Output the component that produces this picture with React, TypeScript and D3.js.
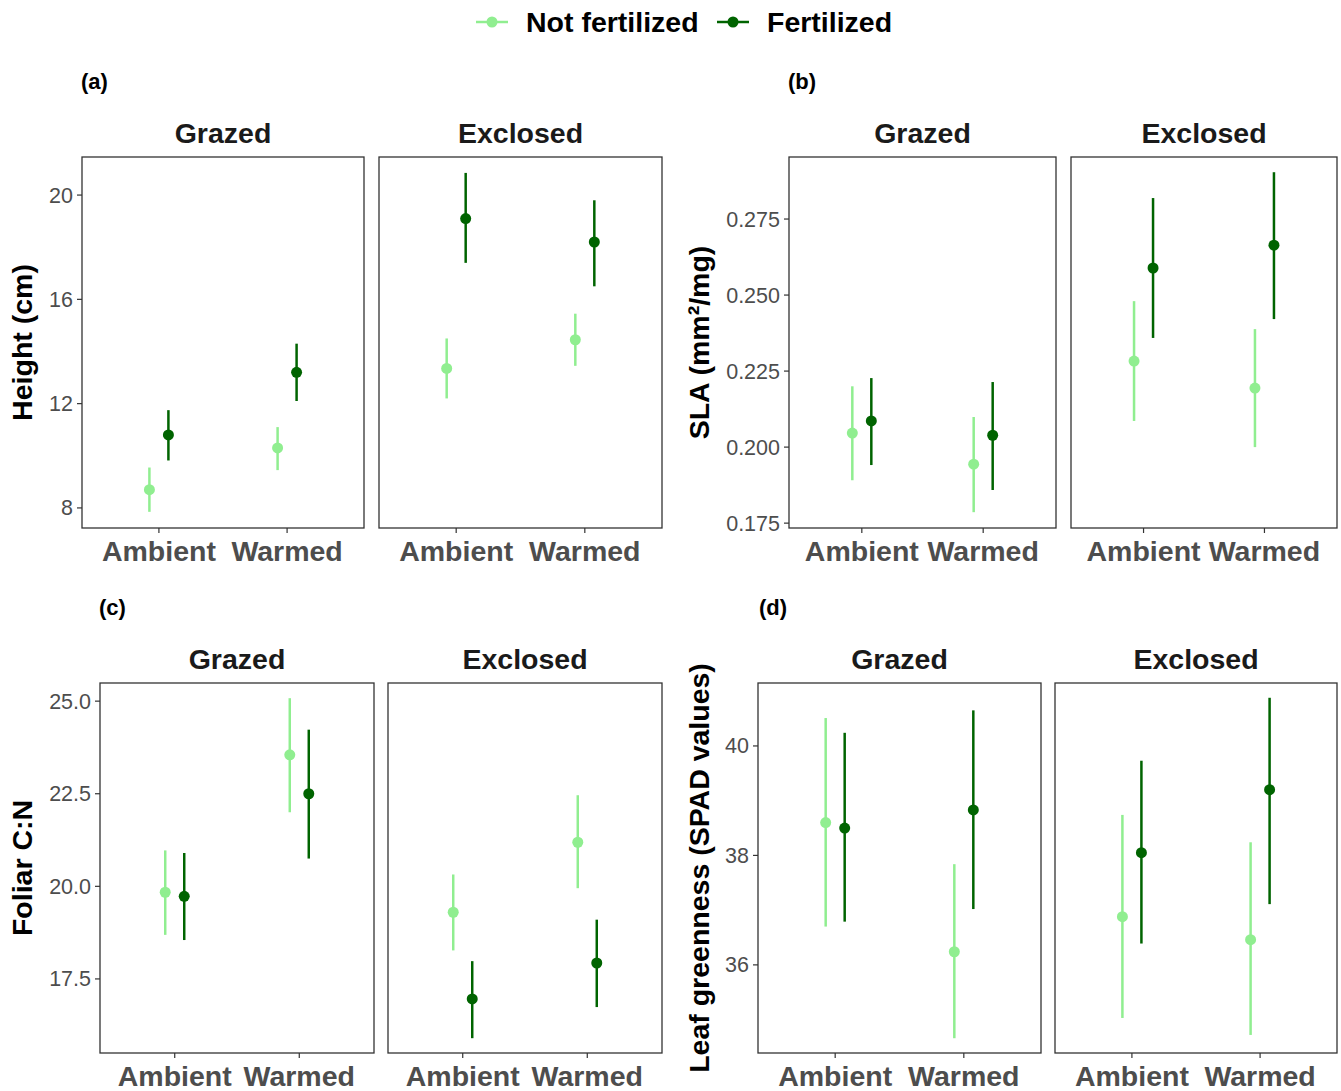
import React from 'react';
import * as d3 from 'd3';

const treatments = ['Ambient', 'Warmed'];
const facets = ['Grazed', 'Exclosed'];
const groups = ['Not fertilized', 'Fertilized'];
const colors = ['#90EE90', '#006400'];

// [facet][treatment][group] = [mean, lo, hi]
const heightVals = [
  [[[8.7, 7.85, 9.55], [10.8, 9.82, 11.75]], [[10.3, 9.45, 11.1], [13.2, 12.1, 14.3]]],
  [[[13.35, 12.2, 14.5], [19.1, 17.4, 20.85]], [[14.45, 13.45, 15.45], [18.2, 16.5, 19.8]]],
];
const slaVals = [
  [[[0.2046, 0.1891, 0.22], [0.2086, 0.1941, 0.2227]], [[0.1944, 0.1786, 0.2099], [0.2039, 0.1859, 0.2214]]],
  [[[0.2283, 0.2086, 0.248], [0.2589, 0.2359, 0.2819]], [[0.2194, 0.2, 0.2388], [0.2664, 0.2421, 0.2904]]],
];
const cnVals = [
  [[[19.84, 18.69, 20.97], [19.73, 18.55, 20.9]], [[23.55, 22.0, 25.08], [22.5, 20.75, 24.23]]],
  [[[19.3, 18.27, 20.32], [16.96, 15.9, 17.98]], [[21.19, 19.95, 22.46], [17.93, 16.74, 19.1]]],
];
const spadVals = [
  [[[38.6, 36.7, 40.51], [38.5, 36.79, 40.24]], [[36.24, 34.66, 37.84], [38.83, 37.02, 40.65]]],
  [[[36.88, 35.03, 38.74], [38.05, 36.39, 39.73]], [[36.46, 34.72, 38.24], [39.2, 37.11, 40.88]]],
];

const heightTicks = [8, 12, 16, 20];
const slaTicks = [0.175, 0.2, 0.225, 0.25, 0.275];
const cnTicks = [17.5, 20, 22.5, 25];
const spadTicks = [36, 38, 40];

const FONT = 'Arial, "Liberation Sans", Helvetica, sans-serif';

interface PanelProps {
  tag: string; tagX: number; tagY: number;
  ylabel: React.ReactNode; ylabelX: number;
  boxes: [number, number][];
  top: number; bottom: number;
  domain: [number, number];
  ticks: number[]; fmt: (v: number) => string;
  data: number[][][][];
}

const Panel: React.FC<PanelProps> = ({ tag, tagX, tagY, ylabel, ylabelX, boxes, top, bottom, domain, ticks, fmt, data }) => {
  const y = d3.scaleLinear().domain(domain).range([bottom, top]);
  const dodge = 9.5;
  return (
    <g fontFamily={FONT}>
      <text x={tagX} y={tagY} fontSize={22} fontWeight="bold" textAnchor="start">{tag}</text>
      <text transform={`translate(${ylabelX},${(top + bottom) / 2}) rotate(-90)`} textAnchor="middle"
        fontSize={28.5} fontWeight="bold">{ylabel}</text>
      {ticks.map(t => (
        <g key={t}>
          <line x1={boxes[0][0] - 5} x2={boxes[0][0]} y1={y(t)} y2={y(t)} stroke="#333" strokeWidth={1.2} />
          <text x={boxes[0][0] - 9} y={y(t)} dy="0.35em" textAnchor="end" fontSize={21.5} fill="#4d4d4d">{fmt(t)}</text>
        </g>
      ))}
      {boxes.map(([x0, x1], fi) => {
        const x = d3.scaleLinear().domain([0.4, 2.6]).range([x0, x1]);
        return (
          <g key={fi}>
            <text x={(x0 + x1) / 2} y={top - 14} textAnchor="middle" fontSize={28.5} fontWeight="bold" fill="#1a1a1a">{facets[fi]}</text>
            <rect x={x0} y={top} width={x1 - x0} height={bottom - top} fill="white" stroke="#333" strokeWidth={1.3} />
            {treatments.map((tr, ti) => (
              <g key={tr}>
                <line x1={x(ti + 1)} x2={x(ti + 1)} y1={bottom} y2={bottom + 5} stroke="#333" strokeWidth={1.2} />
                <text x={x(ti + 1)} y={bottom + 33} textAnchor="middle" fontSize={28.5} fontWeight="bold" fill="#4d4d4d">{tr}</text>
                {groups.map((g, gi) => {
                  const [m, lo, hi] = data[fi][ti][gi];
                  const cx = x(ti + 1) + (gi === 0 ? -dodge : dodge);
                  return (
                    <g key={g}>
                      <line x1={cx} x2={cx} y1={y(lo)} y2={y(hi)} stroke={colors[gi]} strokeWidth={2.5} />
                      <circle cx={cx} cy={y(m)} r={5.5} fill={colors[gi]} />
                    </g>
                  );
                })}
              </g>
            ))}
          </g>
        );
      })}
    </g>
  );
};

export default function App() {
  return (
    <svg width={1341} height={1091} style={{ position: 'absolute', left: 0, top: 0, background: 'white' }}>
      <g fontFamily={FONT}>
        {groups.map((g, i) => {
          const x0 = i === 0 ? 476 : 717;
          return (
            <g key={g}>
              <line x1={x0} x2={x0 + 32} y1={22} y2={22} stroke={colors[i]} strokeWidth={2.5} />
              <circle cx={x0 + 16} cy={22} r={5.5} fill={colors[i]} />
              <text x={x0 + 50} y={22} dy="0.35em" fontSize={28.5} fontWeight="bold">{g}</text>
            </g>
          );
        })}
      </g>
      <Panel tag="(a)" tagX={81} tagY={89} ylabel="Height (cm)" ylabelX={32}
        boxes={[[82, 364], [379, 662]]} top={157} bottom={528} domain={[7.23, 21.46]}
        ticks={heightTicks} fmt={d3.format('d')} data={heightVals} />
      <Panel tag="(b)" tagX={788} tagY={89} ylabel="SLA (mm²/mg)" ylabelX={709}
        boxes={[[789, 1056], [1071, 1337]]} top={157} bottom={528} domain={[0.1734, 0.2954]}
        ticks={slaTicks} fmt={d3.format('.3f')} data={slaVals} />
      <Panel tag="(c)" tagX={99} tagY={615} ylabel="Foliar C:N" ylabelX={32}
        boxes={[[100, 374], [388, 662]]} top={683} bottom={1053} domain={[15.5, 25.49]}
        ticks={cnTicks} fmt={d3.format('.1f')} data={cnVals} />
      <Panel tag="(d)" tagX={759} tagY={615} ylabel="Leaf greenness (SPAD values)" ylabelX={709}
        boxes={[[758, 1041], [1055, 1337]]} top={683} bottom={1053} domain={[34.39, 41.15]}
        ticks={spadTicks} fmt={d3.format('d')} data={spadVals} />
    </svg>
  );
}
